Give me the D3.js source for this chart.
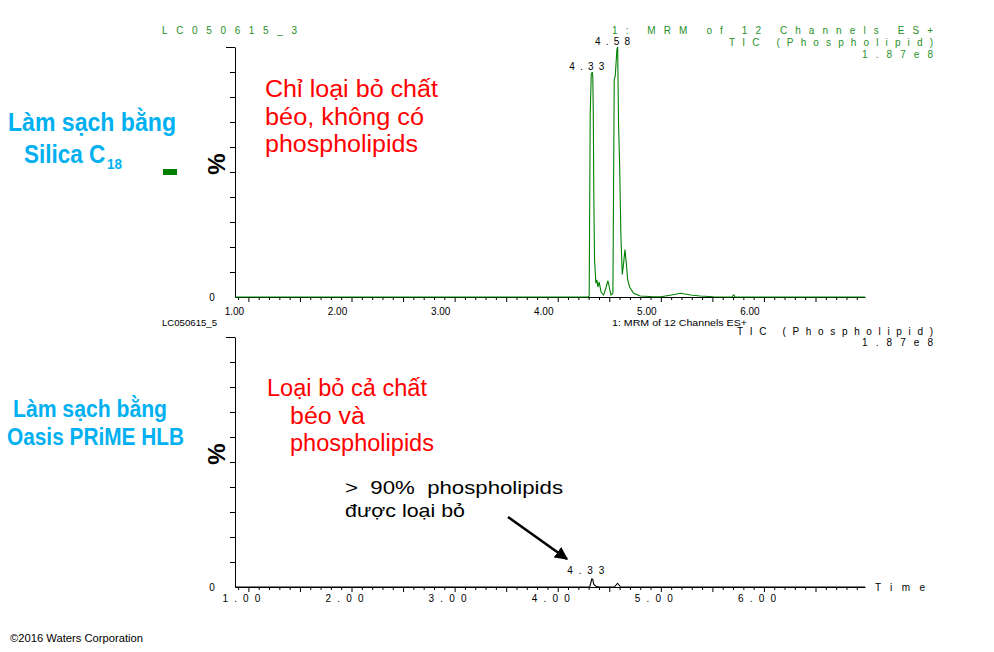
<!DOCTYPE html>
<html>
<head>
<meta charset="utf-8">
<script src="https://cdn.jsdelivr.net/npm/d3@7"></script>
<style>
body{margin:0;background:#fff;}
svg{display:block;}
text{font-family:"Liberation Sans",Arial,sans-serif;white-space:pre;}
</style>
</head>
<body>
<svg width="994" height="652"></svg>
<script>
// retention time (min), intensity (%)
var topTrace = [
[0.87,0],[4.29,0],[4.305,0.3],[4.315,73],[4.325,89],[4.335,90],[4.34,88],[4.345,73],
[4.35,40],[4.357,15],[4.37,5.5],[4.38,6.8],[4.39,4],[4.402,6],[4.42,2],[4.445,0.8],
[4.47,4],[4.487,6.5],[4.50,4],[4.516,0.8],[4.535,1.5],[4.548,87],[4.558,88.5],[4.574,99],
[4.581,100],[4.59,69],[4.60,53.5],[4.613,24],[4.626,9],[4.639,13.5],[4.652,19],[4.665,13.5],
[4.678,7],[4.697,4],[4.736,1.5],[4.80,0.4],[4.93,0.1],[5.00,0.1],[5.09,0.7],[5.19,1.5],
[5.29,0.8],[5.38,0.4],[5.51,0.1],[5.69,0],[5.707,0.8],[5.72,0],[6.98,0]
];
var bottomTrace = [
[0.87,0],[4.31,0],[4.32,1.5],[4.33,3.2],[4.34,3],[4.35,1],[4.37,0.3],[4.40,0],
[4.55,0],[4.57,1],[4.58,1.5],[4.59,1],[4.61,0],[6.98,0]
];
var xTickValues = [1,2,3,4,5,6];
var xTickLabels = ["1.00","2.00","3.00","4.00","5.00","6.00"];
var yTickValues = [10,20,30,40,50,60,70,80,90,100];

var topHeader = ["LC050615_3","1: MRM of 12 Channels ES+","TIC (Phospholipid)","1.87e8"];
var bottomHeader = ["LC050615_5","1: MRM of 12 Channels ES+","TIC (Phospholipid)","1.87e8"];
var topPeaks = [{t:4.33,label:"4.33",v:90},{t:4.58,label:"4.58",v:100}];
var bottomPeaks = [{t:4.33,label:"4.33",v:3.2}];

var svg = d3.select("svg");

var x = d3.scaleLinear().domain([0.87,6.98]).range([235,865]);
var minorTicks = d3.range(9,70).map(function(i){ return i/10; }).filter(function(v){ return Math.round(v*10)%5!=0; });
var majorTicks = d3.range(2,14).map(function(i){ return i/2; });

function panel(base, top, trace, color, labelShift, spaced){
	var y = d3.scaleLinear().domain([0,100]).range([base, top]);
	var g = svg.append("g");

	g.append("g").attr("transform","translate(0,"+base+")")
		.call(d3.axisBottom(x).tickValues(minorTicks).tickSize(3).tickSizeOuter(0).tickFormat(""));
	g.append("g").attr("transform","translate(0,"+base+")")
		.call(d3.axisBottom(x).tickValues(majorTicks).tickSize(5).tickSizeOuter(0).tickFormat(""))
		.select(".domain").remove();
	g.append("g").attr("transform","translate(235,0)")
		.call(d3.axisLeft(y).tickValues(yTickValues).tickSize(5).tickSizeOuter(0).tickFormat(""));
	g.append("g").attr("transform","translate(235,0)")
		.call(d3.axisLeft(y).tickValues([100]).tickSize(9).tickSizeOuter(0).tickFormat(""))
		.select(".domain").remove();
	g.selectAll(".tick line, .domain").attr("stroke","#000");

	g.append("text").attr("x",212).attr("y",base+4).attr("text-anchor","middle")
		.attr("font-size",10).text("0");

	g.selectAll(null).data(xTickValues).enter().append("text")
		.attr("x", function(d){ return x(d)+labelShift; })
		.attr("y", base+ (spaced?15:18))
		.attr("text-anchor","middle")
		.attr("font-size",10)
		.attr("textLength", spaced?38:null)
		.attr("lengthAdjust","spacing")
		.text(function(d,i){ return xTickLabels[i]; });

	g.append("path").datum(trace)
		.attr("fill","none").attr("stroke",color).attr("stroke-width",1.1)
		.attr("d", d3.line().x(function(d){ return x(d[0]); }).y(function(d){ return y(d[1]); }));

	g.append("text").attr("transform","translate(225,"+(top+117)+") rotate(-90)")
		.attr("text-anchor","middle").attr("font-size",24).attr("font-weight","bold").text("%");
	return y;
}

var yTop = panel(297, 47, topTrace, "#008000", -14, false);
var yBot = panel(587, 337, bottomTrace, "#000", -7, true);

function spacedText(txt, x0, x1, yy, col, size, anchor){
	svg.append("text").attr("x", anchor=="end"?x1:x0).attr("y",yy)
		.attr("text-anchor", anchor||"start")
		.attr("font-size", size).attr("fill", col)
		.attr("textLength", x1-x0).attr("lengthAdjust","spacing")
		.text(txt);
}

// top header (green, spaced)
spacedText(topHeader[0],162,297,34,"#1f8f1f",10);
spacedText(topHeader[1],612,933,34,"#1f8f1f",10,"end");
spacedText(topHeader[2],729,933,46,"#1f8f1f",10,"end");
spacedText(topHeader[3],862,933,58,"#1f8f1f",10,"end");

topPeaks.forEach(function(p){
	svg.append("text").attr("x",x(p.t)-5).attr("y",yTop(p.v)-2)
		.attr("text-anchor","middle").attr("font-size",10)
		.attr("textLength",35).attr("lengthAdjust","spacing").text(p.label);
});

// bottom header
svg.append("text").attr("x",162).attr("y",326).attr("font-size",9)
	.attr("textLength",55).attr("lengthAdjust","spacingAndGlyphs").text(bottomHeader[0]);
svg.append("text").attr("x",612).attr("y",326).attr("font-size",9)
	.attr("textLength",135).attr("lengthAdjust","spacingAndGlyphs").text(bottomHeader[1]);
spacedText(bottomHeader[2],737,933,335,"#000",10,"end");
spacedText(bottomHeader[3],862,933,346,"#000",10,"end");
bottomPeaks.forEach(function(p){
	svg.append("text").attr("x",x(p.t)-6).attr("y",yBot(p.v)-5)
		.attr("text-anchor","middle").attr("font-size",10)
		.attr("textLength",37).attr("lengthAdjust","spacing").text(p.label);
});
spacedText("Time",875,925,591,"#000",10);

// left side labels
function fitText(txt, x0, x1, yy, col, size, weight){
	return svg.append("text").attr("x",x0).attr("y",yy)
		.attr("font-family","'Open Sans','Noto Sans',sans-serif")
		.attr("font-size",size).attr("font-weight",weight||"normal").attr("fill",col)
		.attr("textLength",x1-x0).attr("lengthAdjust","spacingAndGlyphs")
		.text(txt);
}
var cyan = "#00b0f0";
fitText("Làm sạch bằng",8,176,131,cyan,25,"bold");
var silica = fitText("Silica C",24,122,163,cyan,25,"bold");
silica.append("tspan").attr("dx",2).attr("dy",6).attr("font-size",15).text("18");
fitText("Làm sạch bằng",13,167,417,cyan,23,"bold");
fitText("Oasis PRiME HLB",7,184,445,cyan,23,"bold");

svg.append("rect").attr("x",163).attr("y",169).attr("width",14).attr("height",6).attr("fill","#008000");

var red = "#ff0000";
fitText("Chỉ loại bỏ chất",265,438,97,red,23);
fitText("béo, không có",265,424,125,red,23);
fitText("phospholipids",265,418,152,red,23);
fitText("Loại bỏ cả chất",267,427,396,red,23);
fitText("béo và",290,365,424,red,23);
fitText("phospholipids",290,434,451,red,23);

fitText(">  90%  phospholipids",345,563,494,"#000",19);
fitText("được loại bỏ",345,465,517,"#000",19);

// arrow
svg.append("defs").append("marker").attr("id","ah")
	.attr("viewBox","0 0 10 10").attr("refX",9).attr("refY",5)
	.attr("markerWidth",5).attr("markerHeight",5).attr("orient","auto")
	.append("path").attr("d","M0,0L10,5L0,10z").attr("fill","#000");
svg.append("line").attr("x1",508).attr("y1",517).attr("x2",567).attr("y2",559)
	.attr("stroke","#000").attr("stroke-width",2.6).attr("marker-end","url(#ah)");

svg.append("text").attr("x",10).attr("y",642).attr("font-size",10)
	.attr("textLength",133).attr("lengthAdjust","spacingAndGlyphs").text("©2016 Waters Corporation");
</script>
</body>
</html>
